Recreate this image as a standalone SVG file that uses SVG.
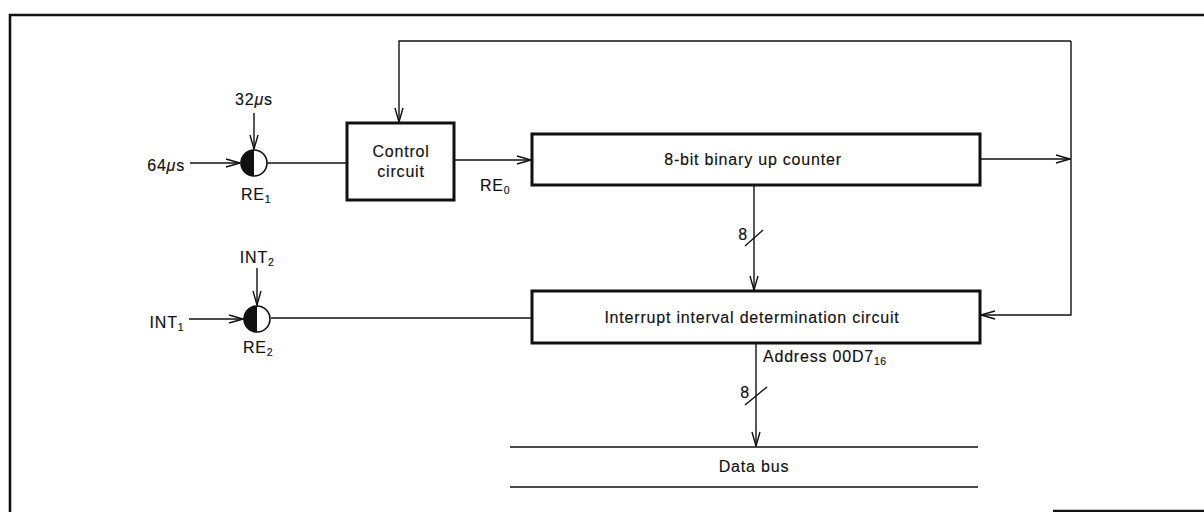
<svg xmlns="http://www.w3.org/2000/svg" width="1204" height="512" viewBox="0 0 1204 512">
<style>
text{font-family:"Liberation Sans",Arial,sans-serif;font-size:16px;letter-spacing:0.8px;fill:#111;stroke:#111;stroke-width:0.15}
.sub{font-size:10.5px;letter-spacing:0.4px}
.box{fill:#fff;stroke:#111;stroke-width:3}
.ln{fill:none;stroke:#111;stroke-width:1.4}
.frame{fill:none;stroke:#111;stroke-width:2.6}
.circ{fill:#fff;stroke:#111;stroke-width:1.6}
.half{fill:#111}
</style>
<defs>
<marker id="arr" markerUnits="userSpaceOnUse" markerWidth="16" markerHeight="10" refX="15" refY="5" orient="auto">
<path d="M1,1 L15,5 L1,9" fill="none" stroke="#111" stroke-width="1.4"/>
</marker>
</defs>
<g id="frame">
<path class="frame" d="M1204,15 H10 V512"/>
<path class="frame" d="M1053,511 H1204"/>
</g>
<g id="connectors">
<path class="ln" d="M190,163 H240" marker-end="url(#arr)"/>
<path class="ln" d="M254,113 V149" marker-end="url(#arr)"/>
<path class="ln" d="M267,163 H347"/>
<path class="ln" d="M454,160 H531" marker-end="url(#arr)"/>
<path class="ln" d="M980,159 H1070" marker-end="url(#arr)"/>
<path class="ln" d="M1071,41 H399 V122" marker-end="url(#arr)"/>
<path class="ln" d="M1071,41 V315 H981" marker-end="url(#arr)"/>
<path class="ln" d="M754,186 V290" marker-end="url(#arr)"/>
<path class="ln" d="M745,246 L763,230"/>
<path class="ln" d="M189,319 H243" marker-end="url(#arr)"/>
<path class="ln" d="M257,268 V305" marker-end="url(#arr)"/>
<path class="ln" d="M271,318 H532"/>
<path class="ln" d="M756,344 V446" marker-end="url(#arr)"/>
<path class="ln" d="M745,405 L767,387"/>
</g>
<g id="re1">
<circle class="circ" cx="254" cy="163" r="13"/>
<path class="half" d="M254,150 A13,13 0 0 0 254,176 Z"/>
<text x="256" y="200" text-anchor="middle">RE<tspan class="sub" dy="3">1</tspan></text>
</g>
<g id="in-64us"><text x="185" y="171" text-anchor="end">64<tspan font-style="italic">μ</tspan>s</text></g>
<g id="in-32us"><text x="254" y="105" text-anchor="middle">32<tspan font-style="italic">μ</tspan>s</text></g>
<g id="control">
<rect class="box" x="347" y="123" width="107" height="77"/>
<text x="401" y="157" text-anchor="middle">Control</text>
<text x="401" y="177" text-anchor="middle">circuit</text>
</g>
<g id="re0-label"><text x="480" y="191">RE<tspan class="sub" dy="3">0</tspan></text></g>
<g id="counter">
<rect class="box" x="532" y="134" width="448" height="51"/>
<text x="753" y="165" text-anchor="middle">8-bit binary up counter</text>
</g>
<g id="bits1"><text x="748" y="240" text-anchor="end">8</text></g>
<g id="re2">
<circle class="circ" cx="257" cy="319" r="13"/>
<path class="half" d="M257,306 A13,13 0 0 0 257,332 Z"/>
<text x="258" y="353" text-anchor="middle">RE<tspan class="sub" dy="3">2</tspan></text>
</g>
<g id="in-int1"><text x="184" y="328" text-anchor="end">INT<tspan class="sub" dy="3">1</tspan></text></g>
<g id="in-int2"><text x="257" y="263" text-anchor="middle">INT<tspan class="sub" dy="3">2</tspan></text></g>
<g id="interrupt">
<rect class="box" x="532" y="291" width="448" height="52"/>
<text x="752" y="323" text-anchor="middle">Interrupt interval determination circuit</text>
</g>
<g id="address"><text x="763" y="362">Address 00D7<tspan class="sub" dy="3">16</tspan></text></g>
<g id="bits2"><text x="750" y="398" text-anchor="end">8</text></g>
<g id="databus">
<path class="ln" d="M510,447 H978"/>
<path class="ln" d="M510,487 H978"/>
<text x="754" y="472" text-anchor="middle">Data bus</text>
</g>
</svg>
